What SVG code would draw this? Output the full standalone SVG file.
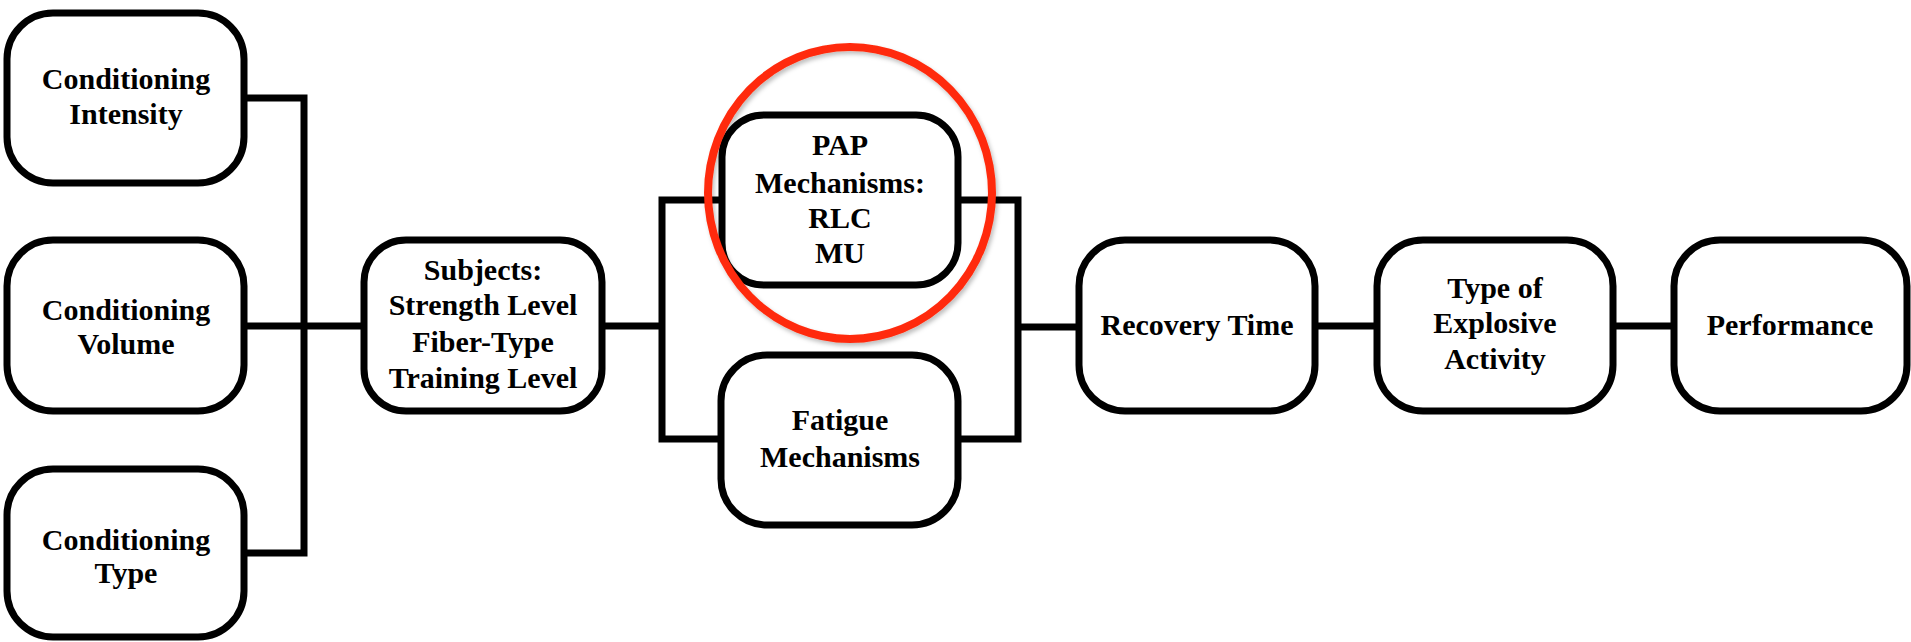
<svg xmlns="http://www.w3.org/2000/svg" width="1911" height="642" viewBox="0 0 1911 642">
  <style>
    .box { fill: #ffffff; stroke: #000000; stroke-width: 7; }
    .conn { fill: none; stroke: #000000; stroke-width: 7; stroke-linejoin: miter; }
    .lbl { font-family: "Liberation Serif", "Times New Roman", serif; font-weight: bold; font-size: 30px; fill: #000000; text-anchor: middle; }
    .ring { fill: none; stroke: #ff2a0a; stroke-width: 8; }
  </style>
  <defs>
    <filter id="shadow" x="-10%" y="-10%" width="120%" height="120%">
      <feDropShadow dx="2" dy="3" stdDeviation="2" flood-color="#000000" flood-opacity="0.25"/>
    </filter>
  </defs>
  <rect x="0" y="0" width="1911" height="642" fill="#ffffff"/>

  <g id="connectors">
    <path class="conn" d="M244,98 H304 V553 H244"/>
    <path class="conn" d="M244,326 H364"/>
    <path class="conn" d="M602,326 H662"/>
    <path class="conn" d="M722,200 H662 V439 H722"/>
    <path class="conn" d="M958,200 H1018 V439 H958"/>
    <path class="conn" d="M1018,327 H1079"/>
    <path class="conn" d="M1315,326 H1377"/>
    <path class="conn" d="M1613,326 H1674"/>
  </g>

  <g id="node-conditioning-intensity">
    <rect class="box" x="7" y="13" width="237" height="170" rx="46" ry="46"/>
    <text class="lbl" x="126" y="89">Conditioning</text>
    <text class="lbl" x="126" y="124">Intensity</text>
  </g>
  <g id="node-conditioning-volume">
    <rect class="box" x="7" y="240" width="237" height="171" rx="46" ry="46"/>
    <text class="lbl" x="126" y="320">Conditioning</text>
    <text class="lbl" x="126" y="354">Volume</text>
  </g>
  <g id="node-conditioning-type">
    <rect class="box" x="7" y="469" width="237" height="168" rx="46" ry="46"/>
    <text class="lbl" x="126" y="550">Conditioning</text>
    <text class="lbl" x="126" y="583">Type</text>
  </g>
  <g id="node-subjects">
    <rect class="box" x="364" y="240" width="238" height="171" rx="42" ry="42"/>
    <text class="lbl" x="483" y="280">Subjects:</text>
    <text class="lbl" x="483" y="315">Strength Level</text>
    <text class="lbl" x="483" y="352">Fiber-Type</text>
    <text class="lbl" x="483" y="388">Training Level</text>
  </g>
  <g id="node-pap">
    <rect class="box" x="722" y="115" width="236" height="170" rx="42" ry="42"/>
    <text class="lbl" x="840" y="155">PAP</text>
    <text class="lbl" x="840" y="193">Mechanisms:</text>
    <text class="lbl" x="840" y="228">RLC</text>
    <text class="lbl" x="840" y="263">MU</text>
  </g>
  <g id="node-fatigue">
    <rect class="box" x="721" y="355" width="237" height="170" rx="46" ry="46"/>
    <text class="lbl" x="840" y="430">Fatigue</text>
    <text class="lbl" x="840" y="467">Mechanisms</text>
  </g>
  <g id="node-recovery">
    <rect class="box" x="1079" y="240" width="236" height="171" rx="46" ry="46"/>
    <text class="lbl" x="1197" y="335">Recovery Time</text>
  </g>
  <g id="node-explosive">
    <rect class="box" x="1377" y="240" width="236" height="171" rx="46" ry="46"/>
    <text class="lbl" x="1495" y="298">Type of</text>
    <text class="lbl" x="1495" y="333">Explosive</text>
    <text class="lbl" x="1495" y="369">Activity</text>
  </g>
  <g id="node-performance">
    <rect class="box" x="1674" y="240" width="233" height="171" rx="46" ry="46"/>
    <text class="lbl" x="1790" y="335">Performance</text>
  </g>

  <g id="highlight-ring">
    <ellipse class="ring" cx="850" cy="193" rx="142" ry="146" filter="url(#shadow)"/>
  </g>
</svg>
